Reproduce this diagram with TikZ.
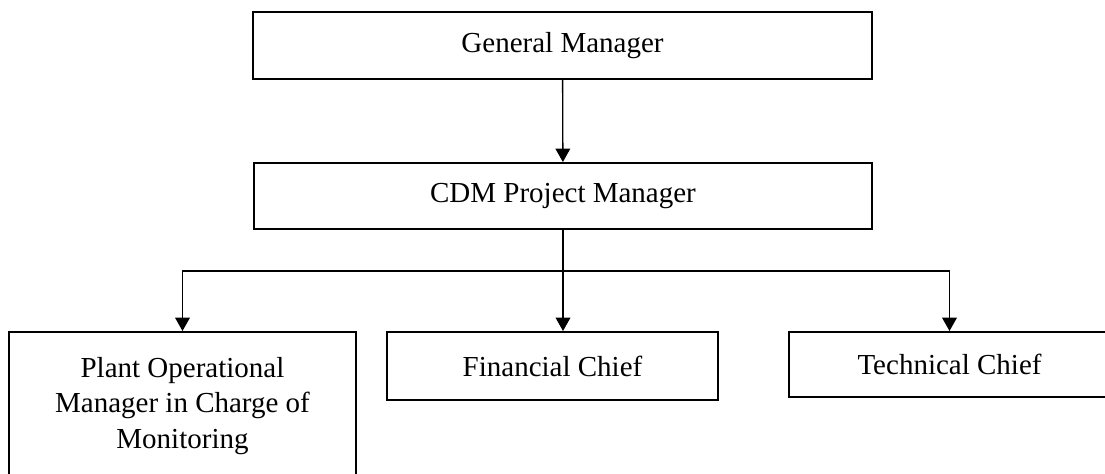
\documentclass[tikz,border=0pt]{standalone}
\usepackage{fontspec}
\setmainfont{Liberation Serif}
\usetikzlibrary{arrows.meta}

\begin{document}
\begin{tikzpicture}[x=0.75pt, y=-0.75pt,
  box/.style={draw, line width=1.5pt, inner sep=0pt, align=center, font=\fontsize{21.75}{26.6}\selectfont},
  link/.style={line width=1pt, -{Triangle[length=10pt, width=11pt]}}]
\useasboundingbox (0,0) rectangle (1105,474);
\node[box, minimum width=464.25pt, minimum height=50.25pt] (gm) at (562.5,45.5) {General Manager};
\node[box, minimum width=463.5pt, minimum height=49.5pt] (pm) at (563,196) {CDM Project Manager};
\node[box, minimum width=260.25pt, minimum height=111pt] (po) at (182.5,406) {Plant Operational\\Manager in Charge of\\Monitoring};
\node[box, minimum width=248.25pt, minimum height=51pt] (fc) at (552.5,366) {Financial Chief};
\node[box, minimum width=240.75pt, minimum height=48.75pt] (tc) at (949.5,364.5) {Technical Chief};
\coordinate (j) at (561,271);
\draw[link] (gm) -- (pm);
\draw[line width=1pt] (j -| pm.south) -- (pm.south);
\draw[link] (j) -| (po.north);
\draw[link] (j) -| (tc.north);
\draw[link] (pm.south) -- (pm.south |- fc.north);
\end{tikzpicture}
\end{document}
